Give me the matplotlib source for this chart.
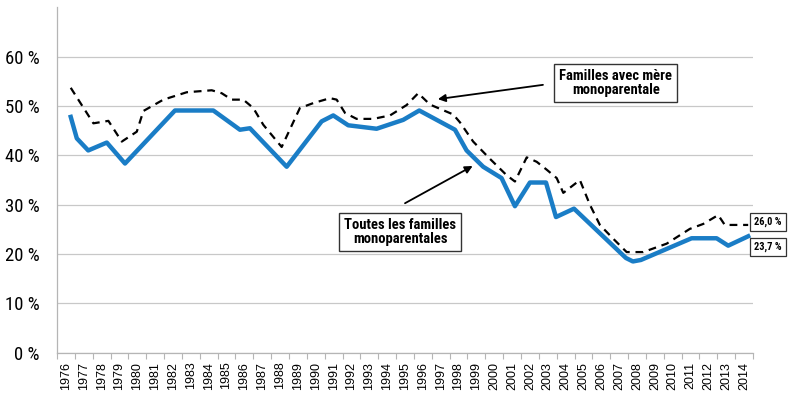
import matplotlib
matplotlib.use("Agg")
import matplotlib.pyplot as plt
from matplotlib import font_manager as fm

names = sorted({f.name for f in fm.fontManager.ttflist})

def pick(cands, default="DejaVu Sans"):
    for c in cands:
        if c in names:
            return c
    return default

COND = pick(["Roboto Condensed", "Liberation Sans Narrow", "DejaVu Sans Condensed"], "Liberation Sans")
SANS = pick(["Liberation Sans", "Roboto", "DejaVu Sans"])

# ---- data (decimal-year positions of the polyline vertices, percentages) ----
years = list(range(1976, 2015))
year_labels = [str(y) for y in years]

all_x = [1976.27, 1976.61, 1977.25, 1978.29, 1979.31, 1982.11, 1984.26, 1985.75,
         1986.31, 1988.37, 1990.33, 1990.98, 1991.82, 1993.41, 1994.90, 1995.80,
         1997.80, 1998.45, 1999.38, 2000.41, 2001.16, 2002.00, 2002.90, 2003.46,
         2004.47, 2007.38, 2007.77, 2008.22, 2011.06, 2012.46, 2013.11, 2014.23]
all_y = [47.8, 43.45, 41.0, 42.6, 38.35, 49.1, 49.1, 45.2,
         45.5, 37.7, 46.9, 48.1, 46.1, 45.4, 47.2, 49.1,
         45.2, 41.0, 37.7, 35.4, 29.7, 34.5, 34.5, 27.5,
         29.2, 19.2, 18.5, 18.8, 23.2, 23.2, 21.7, 23.6]

mother_x = [1976.27, 1977.54, 1978.38, 1979.13, 1979.97, 1980.34, 1981.46, 1982.77,
            1984.17, 1984.73, 1985.29, 1985.94, 1986.50, 1987.06, 1988.09, 1989.11,
            1989.86, 1990.80, 1991.17, 1991.64, 1992.29, 1993.22, 1994.16, 1995.09,
            1995.74, 1996.40, 1997.70, 1998.08, 1998.82, 1999.76, 2000.69, 2001.16,
            2001.82, 2002.38, 2002.94, 2003.50, 2003.87, 2004.80, 2005.36, 2005.92,
            2006.67, 2007.42, 2008.35, 2009.66, 2010.96, 2011.71, 2012.55, 2012.92,
            2014.23]
mother_y = [53.7, 46.5, 47.0, 42.8, 44.8, 49.0, 51.3, 52.8,
            53.2, 52.6, 51.3, 51.3, 49.6, 46.2, 41.7, 49.6,
            50.6, 51.6, 51.3, 48.6, 47.4, 47.4, 48.1, 50.2,
            52.6, 50.3, 48.3, 46.7, 42.8, 39.3, 36.0, 34.7,
            39.6, 38.7, 37.1, 35.4, 32.4, 35.0, 30.0, 25.9,
            23.1, 20.4, 20.4, 22.1, 25.1, 26.1, 27.9, 25.9,
            25.9]

yticks = [0, 10, 20, 30, 40, 50, 60]
ytick_labels = [f"{v} %" for v in yticks]
end_labels = ["26,0 %", "23,7 %"]
label_mother = "Familles avec mère\nmonoparentale"
label_all = "Toutes les familles\nmonoparentales"

fig = plt.figure(figsize=(7.9, 3.94), dpi=100)
ax = fig.add_axes([57/790, 1 - 352.7/394, (753 - 57)/790, (352.7 - 7.4)/394])

ax.plot(all_x, all_y, color="#1a7dc6", lw=3.2, solid_joinstyle="round", zorder=3)
ax.plot(mother_x, mother_y, color="black", lw=1.6, linestyle=(0, (3.5, 2.6)), zorder=4)

ax.set_xlim(1975.5, 2014.5)
ax.set_ylim(0, 70)
ax.set_yticks(yticks)
ax.set_yticklabels(ytick_labels, fontfamily=COND, fontsize=13.5)
ax.set_xticks(years)
ax.set_xticklabels(year_labels, rotation=90, fontfamily=SANS, fontsize=9)
ax.set_xticks([y - 0.5 for y in years] + [2014.5], minor=True)
ax.tick_params(axis="x", which="major", length=0, pad=6.5)
ax.tick_params(axis="x", which="minor", length=4, color="#b5b5b5", width=0.8)
ax.tick_params(axis="y", length=0, pad=12.5)
for s in ["top", "right"]:
    ax.spines[s].set_visible(False)
for s in ["left", "bottom"]:
    ax.spines[s].set_color("#b5b5b5")
    ax.spines[s].set_linewidth(0.9)
ax.grid(axis="y", color="#c8c8c8", lw=0.9)
ax.set_axisbelow(True)

box = dict(boxstyle="square,pad=0.35", fc="white", ec="#333333", lw=1.0)
ax.text(2006.81, 54.7, label_mother, ha="center", va="center", fontfamily=COND,
        fontweight="bold", fontsize=10.5, linespacing=1.0, bbox=box, zorder=6)
ax.text(1994.72, 24.5, label_all, ha="center", va="center", fontfamily=COND,
        fontweight="bold", fontsize=10.5, linespacing=1.0, bbox=box, zorder=6)

arrow = dict(arrowstyle="-|>", color="black", lw=1.3, mutation_scale=11, shrinkA=0, shrinkB=0)
ax.annotate("", xy=(1996.84, 51.4), xytext=(2002.73, 54.3), arrowprops=arrow, zorder=6)
ax.annotate("", xy=(1998.79, 37.85), xytext=(1995.0, 30.3), arrowprops=arrow, zorder=6)

small = dict(boxstyle="square,pad=0.4", fc="white", ec="#333333", lw=0.9)
ax.text(2015.33, 26.5, end_labels[0], ha="center", va="center", fontfamily=COND,
        fontweight="bold", fontsize=7.5, bbox=small, clip_on=False, zorder=6)
ax.text(2015.33, 21.4, end_labels[1], ha="center", va="center", fontfamily=COND,
        fontweight="bold", fontsize=7.5, bbox=small, clip_on=False, zorder=6)

fig.savefig("out.png", dpi=100)
